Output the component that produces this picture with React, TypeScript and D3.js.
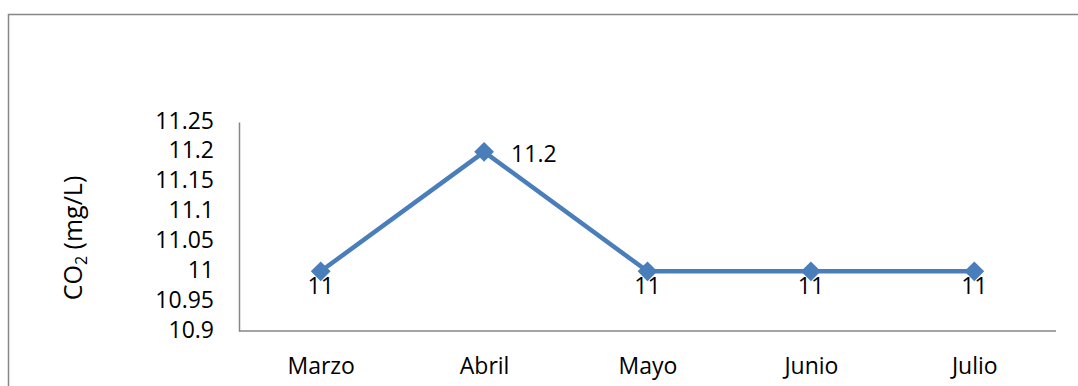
import React, { useEffect, useRef } from 'react'
import * as d3 from 'd3'

const months = ['Marzo', 'Abril', 'Mayo', 'Junio', 'Julio']
const co2 = [11, 11.2, 11, 11, 11]
const yTicks = [10.9, 10.95, 11, 11.05, 11.1, 11.15, 11.2, 11.25]

const W = 1078
const H = 386
const FONT = '"Open Sans", sans-serif'
const BLUE = '#4a7ebb'
const GREY = '#868686'

const App: React.FC = () => {
  const svgRef = useRef<SVGSVGElement>(null)

  useEffect(() => {
    const svg = d3.select(svgRef.current)
    svg.selectAll('*').remove()

    // marco del gráfico (se corta a la derecha y abajo)
    svg.append('rect')
      .attr('x', 8.5)
      .attr('y', 14.5)
      .attr('width', 1200)
      .attr('height', 500)
      .attr('fill', 'none')
      .attr('stroke', GREY)
      .attr('stroke-width', 1.5)

    const left = 239
    const right = 1056
    const top = 122
    const bottom = 331

    const x = d3.scalePoint<string>().domain(months).range([left, right]).padding(0.5)
    const y = d3.scaleLinear().domain([10.9, 11.25]).range([bottom, top])

    // eje Y
    const yAxis = svg.append('g')
      .attr('transform', `translate(${left},0)`)
      .call(d3.axisLeft(y).tickValues(yTicks).tickSize(0).tickPadding(25).tickFormat(d => String(+d)))
    yAxis.select('.domain').attr('stroke', GREY).attr('stroke-width', 1.5)
    yAxis.selectAll('text')
      .attr('font-family', FONT)
      .attr('font-size', 23)
      .attr('fill', '#000')
      .attr('dy', 6)

    // eje X
    const xAxis = svg.append('g')
      .attr('transform', `translate(0,${bottom})`)
      .call(d3.axisBottom(x).tickSize(0).tickPadding(0).tickSizeOuter(0))
    xAxis.select('.domain')
      .attr('d', `M${left},0H${right}`)
      .attr('stroke', GREY)
      .attr('stroke-width', 1.5)
    xAxis.selectAll('text')
      .attr('font-family', FONT)
      .attr('font-size', 23)
      .attr('fill', '#000')
      .attr('dy', null)
      .attr('y', 43)

    // título eje Y
    const title = svg.append('text')
      .attr('transform', `translate(82,238) rotate(-90)`)
      .attr('text-anchor', 'middle')
      .attr('font-family', FONT)
      .attr('font-size', 25)
      .attr('fill', '#000')
    title.append('tspan').text('CO')
    title.append('tspan').attr('font-size', 16).attr('dy', 5).text('2')
    title.append('tspan').attr('dy', -5).text(' (mg/L)')

    const pts = months.map((m, i) => ({ m, v: co2[i] }))

    // línea
    const line = d3.line<{ m: string; v: number }>()
      .x(d => x(d.m) as number)
      .y(d => y(d.v))
    svg.append('path')
      .datum(pts)
      .attr('d', line)
      .attr('fill', 'none')
      .attr('stroke', BLUE)
      .attr('stroke-width', 4.5)
      .attr('stroke-linejoin', 'round')

    // marcadores rombo
    const diamond = d3.symbol().type(d3.symbolDiamond2).size(250)
    svg.selectAll('.mk')
      .data(pts)
      .enter()
      .append('path')
      .attr('class', 'mk')
      .attr('d', diamond)
      .attr('transform', d => `translate(${x(d.m)},${y(d.v)})`)
      .attr('fill', BLUE)

    // etiquetas de datos
    svg.selectAll('.lbl')
      .data(pts)
      .enter()
      .append('text')
      .attr('class', 'lbl')
      .attr('font-family', FONT)
      .attr('font-size', 23)
      .attr('fill', '#000')
      .attr('text-anchor', d => (d.v > 11.1 ? 'start' : 'middle'))
      .attr('x', d => (x(d.m) as number) + (d.v > 11.1 ? 27 : 0))
      .attr('y', d => y(d.v) + (d.v > 11.1 ? 10 : 23))
      .text(d => String(d.v))
  }, [])

  return (
    <svg
      ref={svgRef}
      width={W}
      height={H}
      style={{ position: 'absolute', left: 0, top: 0, background: '#fff' }}
    />
  )
}

export default App
